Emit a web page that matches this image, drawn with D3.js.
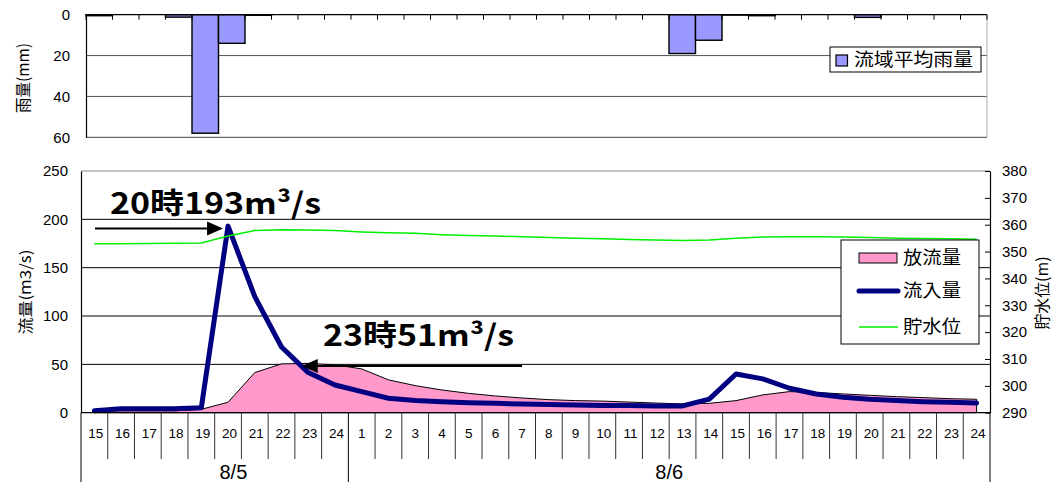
<!DOCTYPE html>
<html>
<head>
<meta charset="utf-8">
<script src="https://cdn.jsdelivr.net/npm/d3@7/dist/d3.min.js"></script>
<style>
  html, body { margin: 0; padding: 0; background: #fff; }
  svg { display: block; }
  text { font-family: "Liberation Sans", Arial, sans-serif; fill: #000; }
  .jp { font-family: "Noto Sans CJK JP", "Noto Sans", sans-serif; }
</style>
</head>
<body>
<svg id="chart" width="1052" height="482"></svg>
<script>
// Hour labels: 15–24 on 8/5, then 1–24 on 8/6
const hours = ["15","16","17","18","19","20","21","22","23","24",
  "1","2","3","4","5","6","7","8","9","10","11","12",
  "13","14","15","16","17","18","19","20","21","22","23","24"];
const days = [{ label: "8/5", at: 5.7 }, { label: "8/6", at: 22 }];

// Basin mean rainfall (mm)
const rainfall = [0.5,0,0,1.2,58,14,0.3,0,0,0, 0,0,0,0,0,0,0,0,0,0,0,0,
  19,12.5,0.2,0.5,0,0,0,1.3,0,0,0,0];
// Discharge (m3/s)
const outflow = [2,2,2,2,3.5,10.8,41.5,50.5,51,49.5, 45.3,34,28,23.5,20,17.3,15.2,13.5,12.5,12,11,10,
  9,9.7,12.5,18.4,21.8,21,19.4,18,16.6,15.6,14.5,13.9];
// Inflow (m3/s)
const inflow = [2,4,4,4,5,193,120,68,41.5,28.7, 21.8,14.9,12.5,11.4,10.4,9.7,9,8.5,8,7.5,7.5,7,
  7,14,40,35,25.3,19.4,16,13.9,12.5,11.4,10.8,10];
// Reservoir water level (m)
const level = [352.9,352.9,353.0,353.1,353.2,355.8,357.8,358.1,358.0,357.8, 357.3,357.0,356.8,356.3,356.0,355.8,355.5,355.2,355.0,354.8,354.5,354.3,
  354.1,354.3,355.0,355.4,355.5,355.5,355.4,355.2,355.0,354.9,354.8,354.6];

const rainTicks = [0,20,40,60];
const flowTicks = [0,50,100,150,200,250];
const levelTicks = [290,300,310,320,330,340,350,360,370,380];

const svg = d3.select("#chart");
const idx = d3.range(hours.length);

// ---------- Rainfall panel (inverted bars hanging from the top) ----------
const xr = d3.scaleBand().domain(idx).range([86, 987]).padding(0);
const yr = d3.scaleLinear().domain([0, 60]).range([14.7, 137.3]);

const rainG = svg.append("g");
rainG.selectAll("line.grid").data([20, 40, 60]).join("line")
  .attr("x1", 86).attr("x2", 987)
  .attr("y1", d => yr(d)).attr("y2", d => yr(d))
  .attr("stroke", d => d === 60 ? "#444" : "#555").attr("stroke-width", 1);
rainG.append("line").attr("x1", 987).attr("x2", 987).attr("y1", yr(0)).attr("y2", yr(60))
  .attr("stroke", "#aaa");

rainG.selectAll("rect.rain").data(rainfall.map((v, i) => ({ v, i })).filter(d => d.v > 0)).join("rect")
  .attr("x", d => xr(d.i)).attr("width", xr.bandwidth())
  .attr("y", yr(0)).attr("height", d => yr(d.v) - yr(0))
  .attr("fill", "#9999ff").attr("stroke", "#000").attr("stroke-width", 1.4);

// top axis with inward ticks at category boundaries
rainG.append("line").attr("x1", 86).attr("x2", 987).attr("y1", yr(0)).attr("y2", yr(0))
  .attr("stroke", "#000").attr("stroke-width", 1.2);
rainG.selectAll("line.tk").data(d3.range(hours.length + 1)).join("line")
  .attr("x1", d => 86 + d * xr.step()).attr("x2", d => 86 + d * xr.step())
  .attr("y1", yr(0)).attr("y2", yr(0) + 5).attr("stroke", "#000");

const yrAxis = d3.axisLeft(yr).tickValues(rainTicks).tickSize(0).tickPadding(16);
rainG.append("g").attr("transform", "translate(86,0)").call(yrAxis)
  .call(g => g.select(".domain").attr("stroke", "#000").attr("stroke-width", 1.2))
  .call(g => g.selectAll("text").attr("font-size", 15).attr("font-family", "Liberation Sans, Arial, sans-serif"));

svg.append("text").attr("class", "jp")
  .attr("transform", "translate(29,78) rotate(-90)")
  .attr("text-anchor", "middle").attr("font-size", 16)
  .attr("textLength", 70).attr("lengthAdjust", "spacingAndGlyphs").text("雨量(mm)");

// rainfall legend
const lg1 = svg.append("g");
lg1.append("rect").attr("x", 830).attr("y", 47).attr("width", 151).attr("height", 25)
  .attr("fill", "#fff").attr("stroke", "#000");
lg1.append("rect").attr("x", 836).attr("y", 55).attr("width", 11.5).attr("height", 11)
  .attr("fill", "#9999ff").attr("stroke", "#000").attr("stroke-width", 1.2);
lg1.append("text").attr("class", "jp").attr("x", 854).attr("y", 60).attr("dy", "0.36em")
  .attr("font-size", 18).attr("textLength", 119).attr("lengthAdjust", "spacingAndGlyphs")
  .text("流域平均雨量");

// ---------- Flow panel ----------
const x = d3.scaleBand().domain(idx).range([81, 990]).padding(0);
const cx = i => x(i) + x.bandwidth() / 2;
const y = d3.scaleLinear().domain([0, 250]).range([412.7, 171]);
const y2 = d3.scaleLinear().domain([290, 380]).range([412.7, 171]);

const flowG = svg.append("g");
flowG.selectAll("line.grid").data([50, 100, 150, 200]).join("line")
  .attr("x1", 81).attr("x2", 990).attr("y1", d => y(d)).attr("y2", d => y(d))
  .attr("stroke", "#000").attr("stroke-width", 1);
flowG.append("line").attr("x1", 81).attr("x2", 990).attr("y1", y(250)).attr("y2", y(250))
  .attr("stroke", "#888");

// discharge area
const area = d3.area().x((d, i) => cx(i)).y0(y(0)).y1(d => y(d));
flowG.append("path").datum(outflow).attr("d", area)
  .attr("fill", "#ff99cc").attr("stroke", "#000").attr("stroke-width", 1);

// inflow line
const line = d3.line().x((d, i) => cx(i)).y(d => y(d));
flowG.append("path").datum(inflow).attr("d", line)
  .attr("fill", "none").attr("stroke", "#000080").attr("stroke-width", 5)
  .attr("stroke-linejoin", "round").attr("stroke-linecap", "round");

// water level line
const line2 = d3.line().x((d, i) => cx(i)).y(d => y2(d));
flowG.append("path").datum(level).attr("d", line2)
  .attr("fill", "none").attr("stroke", "#00ee00").attr("stroke-width", 1.5);

// left axis
const yAxis = d3.axisLeft(y).tickValues(flowTicks).tickSize(0).tickPadding(13);
flowG.append("g").attr("transform", "translate(81,0)").call(yAxis)
  .call(g => g.select(".domain").attr("stroke", "#000").attr("stroke-width", 1.2))
  .call(g => g.selectAll("text").attr("font-size", 15).attr("font-family", "Liberation Sans, Arial, sans-serif"));

// right axis with inward ticks
const y2Axis = d3.axisRight(y2).tickValues(levelTicks).tickSizeInner(-5).tickSizeOuter(0).tickPadding(12);
flowG.append("g").attr("transform", "translate(990,0)").call(y2Axis)
  .call(g => g.select(".domain").attr("stroke", "#000").attr("stroke-width", 1.2))
  .call(g => g.selectAll(".tick line").attr("stroke", "#000"))
  .call(g => g.selectAll("text").attr("font-size", 15).attr("font-family", "Liberation Sans, Arial, sans-serif"));

// bottom axis: baseline, hour ticks, hour and date labels
flowG.append("line").attr("x1", 81).attr("x2", 990).attr("y1", y(0)).attr("y2", y(0))
  .attr("stroke", "#000").attr("stroke-width", 1.2);
const dayEdges = [0, 10, 34];
flowG.selectAll("line.hk").data(d3.range(hours.length + 1)).join("line")
  .attr("x1", d => 81 + d * x.step()).attr("x2", d => 81 + d * x.step())
  .attr("y1", y(0)).attr("y2", d => dayEdges.includes(d) ? 482 : 459)
  .attr("stroke", d => dayEdges.includes(d) ? "#000" : "#333").attr("stroke-width", 1);
flowG.selectAll("text.hour").data(hours).join("text")
  .attr("x", (d, i) => cx(i) + (d.length > 1 ? 1.5 : 0)).attr("y", 433).attr("dy", "0.36em")
  .attr("text-anchor", "middle").attr("font-size", 13.5).text(d => d);
flowG.selectAll("text.day").data(days).join("text")
  .attr("x", d => 81 + d.at * x.step()).attr("y", 472).attr("dy", "0.36em")
  .attr("text-anchor", "middle").attr("font-size", 20).text(d => d.label);

// axis titles
svg.append("text").attr("class", "jp")
  .attr("transform", "translate(31,292) rotate(-90)")
  .attr("text-anchor", "middle").attr("font-size", 15)
  .attr("textLength", 85).attr("lengthAdjust", "spacingAndGlyphs").text("流量(m3/s)");
svg.append("text").attr("class", "jp")
  .attr("transform", "translate(1048,293) rotate(-90)")
  .attr("text-anchor", "middle").attr("font-size", 16)
  .attr("textLength", 73).attr("lengthAdjust", "spacingAndGlyphs").text("貯水位(m)");

// flow legend
const lg2 = svg.append("g");
lg2.append("rect").attr("x", 841).attr("y", 240).attr("width", 138).attr("height", 104)
  .attr("fill", "#fff").attr("stroke", "#000");
lg2.append("rect").attr("x", 859).attr("y", 253).attr("width", 38).attr("height", 10)
  .attr("fill", "#ff99cc").attr("stroke", "#000");
lg2.append("line").attr("x1", 859).attr("x2", 898).attr("y1", 291).attr("y2", 291)
  .attr("stroke", "#000080").attr("stroke-width", 5).attr("stroke-linecap", "round");
lg2.append("line").attr("x1", 859).attr("x2", 898).attr("y1", 327).attr("y2", 327)
  .attr("stroke", "#00ee00").attr("stroke-width", 1.5);
lg2.selectAll("text").data(["放流量", "流入量", "貯水位"]).join("text")
  .attr("class", "jp").attr("x", 903).attr("y", (d, i) => [258, 291, 327][i]).attr("dy", "0.36em")
  .attr("font-size", 18).attr("textLength", 58).attr("lengthAdjust", "spacingAndGlyphs")
  .text(d => d);

// peak annotations
function arrow(g, x1, x2, yy) {
  const dir = Math.sign(x2 - x1);
  g.append("line").attr("x1", x1).attr("x2", x2 - dir * 14).attr("y1", yy).attr("y2", yy)
    .attr("stroke", "#000").attr("stroke-width", 2);
  g.append("path").attr("d", `M${x2},${yy} L${x2 - dir * 16},${yy - 7} L${x2 - dir * 16},${yy + 7} Z`)
    .attr("fill", "#000");
}
const ann = svg.append("g");
const iPeakIn = 5, iPeakOut = 8;
arrow(ann, 95, cx(iPeakIn) - 5, y(inflow[iPeakIn]) + 2.5);
ann.append("text").attr("class", "jp").attr("x", 110).attr("y", 214)
  .attr("font-size", 29).attr("font-weight", "bold")
  .attr("textLength", 211).attr("lengthAdjust", "spacingAndGlyphs")
  .text(`20時${inflow[iPeakIn]}m³/s`);
arrow(ann, 522, cx(iPeakOut) - 6.5, y(outflow[iPeakOut]) + 2.5);
ann.append("text").attr("class", "jp").attr("x", 323).attr("y", 346)
  .attr("font-size", 29).attr("font-weight", "bold")
  .attr("textLength", 191).attr("lengthAdjust", "spacingAndGlyphs")
  .text(`23時${outflow[iPeakOut]}m³/s`);
</script>
</body>
</html>
